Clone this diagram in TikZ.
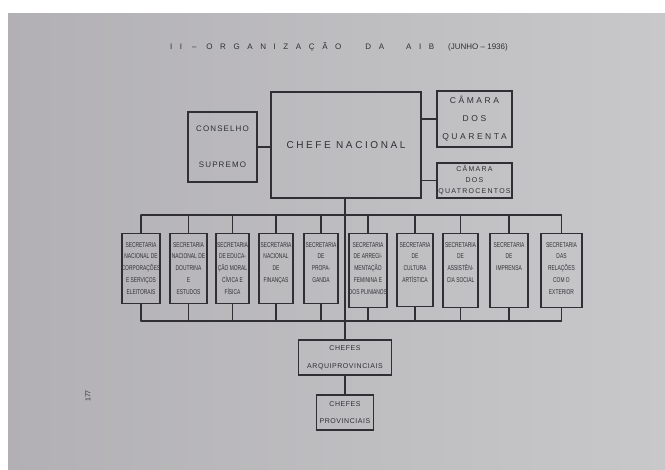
\documentclass[tikz,border=0pt]{standalone}
\usepackage{fontspec}
\setmainfont{Liberation Sans}
\newfontfamily\orgnarrow[FakeStretch=0.7]{Liberation Sans}
\usetikzlibrary{positioning,calc}
\definecolor{cpage}{RGB}{200,200,202}
\definecolor{cpagedark}{RGB}{178,176,180}
\definecolor{cink}{RGB}{48,48,52}
\newcommand{\spaced}[2][24]{{\addfontfeature{LetterSpace=#1}#2}}

\begin{document}
\begin{tikzpicture}[x=1pt,y=-1pt,line cap=round,
  orgbox/.style={draw=cink,line width=1.2pt,inner sep=0pt,align=center,text=cink},
  secbox/.style={draw=cink,line width=1.1pt,anchor=north},
  sectext/.style={anchor=north,inner sep=0pt,align=center,text=cink,
    font=\orgnarrow\fontsize{7}{11.8}\selectfont},
  link/.style={draw=cink,line width=1.1pt}]
% ---------- photographed page ----------
\useasboundingbox (0,0) rectangle (665,470);
\fill[white] (0,0) rectangle (665,470);
\shade[left color=cpagedark,right color=cpage] (8,14) rectangle (665,470);
% ---------- title ----------
\node[text=cink,font=\fontsize{8}{9}\selectfont] (title) at (339,47)
  {\spaced[95]{II -- ORGANIZAÇÃO}\hspace{24pt}\spaced[95]{DA}\hspace{22pt}\spaced[95]{AIB}\hspace{14pt}(JUNHO -- 1936)};
% ---------- top level ----------
\node[orgbox,minimum width=150pt,minimum height=106pt,font=\fontsize{10}{12}\selectfont]
  (chefe) at (346,145) {\spaced[26]{CHEFE NACIONAL}};
\node[orgbox,minimum width=69pt,minimum height=70pt,font=\fontsize{8}{10}\selectfont]
  (conselho) at (222.5,147) {\spaced[14]{CONSELHO}\\[26pt]\spaced[14]{SUPREMO}};
\node[orgbox,minimum width=75pt,minimum height=56pt,font=\fontsize{8.5}{18}\selectfont]
  (quarenta) at (474.5,119) {\spaced[30]{CÂMARA}\\\spaced[30]{DOS}\\\spaced[30]{QUARENTA}};
\node[orgbox,minimum width=75pt,minimum height=35pt,font=\fontsize{7}{11}\selectfont]
  (quatro) at (474.5,180.5) {\spaced[18]{CÂMARA}\\\spaced[18]{DOS}\\\spaced[18]{QUATROCENTOS}};
\draw[link] (conselho.east) -- (conselho.east -| chefe.west);
\draw[link] (quarenta.west) -- (quarenta.west -| chefe.east);
\draw[link] (quatro.west) -- (quatro.west -| chefe.east);
% ---------- lower chiefs ----------
\node[orgbox,minimum width=93pt,minimum height=35pt,font=\fontsize{7}{17.5}\selectfont]
  (arqui) at (345,357.5) {\spaced[8]{CHEFES}\\\spaced[8]{ARQUIPROVINCIAIS}};
\node[orgbox,minimum width=57pt,minimum height=35pt,font=\fontsize{7}{17.5}\selectfont]
  (prov) at (345,412.5) {\spaced[8]{CHEFES}\\\spaced[8]{PROVINCIAIS}};
\draw[link] (arqui.north |- chefe.south) -- (arqui.north);
\draw[link] (arqui.south) -- (prov.north);
% ---------- secretarias ----------
\coordinate (topbus) at (345,215);
\coordinate (botbus) at (345,321);
\foreach \i/\x/\w/\h/\txt in {
  1/141/38/70/{SECRETARIA\\NACIONAL DE\\CORPORAÇÕES\\E SERVIÇOS\\ELEITORAIS},
  2/188.5/37/70/{SECRETARIA\\NACIONAL DE\\DOUTRINA\\E\\ESTUDOS},
  3/232.5/33/70/{SECRETARIA\\DE EDUCA-\\ÇÃO MORAL\\CÍVICA E\\FÍSICA},
  4/276/34/70/{SECRETARIA\\NACIONAL\\DE\\FINANÇAS},
  5/321/34/70/{SECRETARIA\\DE\\PROPA-\\GANDA},
  6/368/38/74/{SECRETARIA\\DE ARREGI-\\MENTAÇÃO\\FEMININA E\\DOS PLINIANOS},
  7/415/36/73/{SECRETARIA\\DE\\CULTURA\\ARTÍSTICA},
  8/460.5/35/74/{SECRETARIA\\DE\\ASSISTÊN-\\CIA SOCIAL},
  9/509/38/74/{SECRETARIA\\DE\\IMPRENSA},
  10/561.5/41/74/{SECRETARIA\\DAS\\RELAÇÕES\\COM O\\EXTERIOR}}{
  \node[secbox,minimum width=\w pt,minimum height=\h pt] (s\i) at (\x,233) {};
  \node[sectext] (t\i) at ([yshift=-9pt]s\i.north) {\txt};
  \draw[link] (s\i.north) -- (s\i.north |- topbus);
  \draw[link] (s\i.south) -- (s\i.south |- botbus);
}
\draw[link] (s1.north |- topbus) -- (s10.north |- topbus);
\draw[link] (s1.south |- botbus) -- (s10.south |- botbus);
% page number
\node[text=cink,rotate=90,font=\fontsize{7}{8}\selectfont] (pagenum) at (88,396) {177};
\end{tikzpicture}
\end{document}
